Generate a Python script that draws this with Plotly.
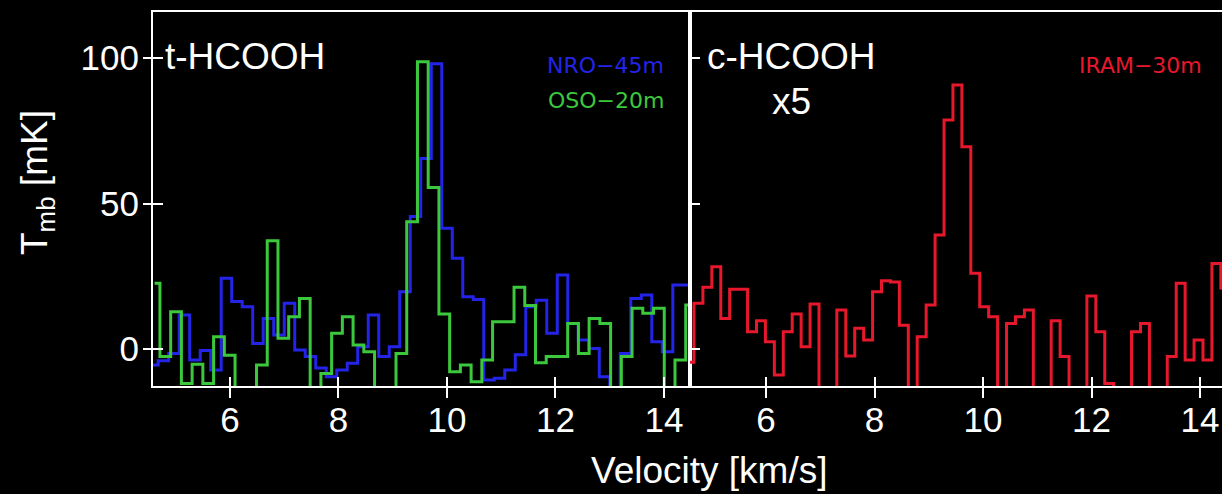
import numpy as np
import plotly.graph_objects as go

# ---- spectra (T_mb in mK), regular velocity channels: v_i = V0 + i*DV (km/s) ----
# t-HCOOH, NRO-45m
NRO_V0 = 4.580
NRO_DV = 0.1936
nro_tmb = [-5.5, -4.0, -1.5, 11.7, -3.8, -0.5, -7.2, 24.3, 16.3, 14.5,
           1.9, 10.5, 4.8, 15.7, -0.3, -2.6, -6.5, -9.5, -7.2, -4.9,
           0.8, 11.7, -2.6, 0.8, 19.7, 45.5, 65.5, 98.0, 41.5, 31.2,
           18.0, 17.0, -10.6, -10.0, -7.2, -2.0, 14.5, 16.8, 5.4, 25.4,
           8.8, 3.1, 0.2, -9.5, -15.0, -1.5, 17.4, 18.6, 2.5, -0.9,
           22.0, 22.0]

# t-HCOOH, OSO-20m
OSO_V0 = 4.610
OSO_DV = 0.1978
oso_tmb = [22.6, -2.6, 12.8, -11.8, -5.2, -11.8, 4.2, -2.1, -16.0, -15.0,
           -5.5, 37.2, 3.7, 11.1, 17.4, -15.0, -8.4, 5.4, 11.1, 1.4,
           -0.9, -16.0, -14.0, -1.5, 43.7, 98.7, 55.5, 12.0, -7.8, -5.5,
           -11.2, -3.8, 9.4, 9.4, 21.2, 15.0, -4.7, -2.6, -2.6, 8.8,
           -1.5, 10.5, 8.8, -15.0, -2.6, 14.0, 12.3, 14.0, -15.0, -3.8,
           15.1]

# c-HCOOH (x5), IRAM-30m
IRAM_V0 = 4.590
IRAM_DV = 0.1646
iram_tmb = [-4.5, 15.7, 21.2, 28.3, 10.5, 20.5, 20.5, 5.9, 9.7, 2.5,
            -8.9, 5.9, 12.0, 0.8, 15.5, -18.0, -16.0, 13.4, -2.4, 7.1,
            3.1, 19.7, 23.5, 23.0, 8.2, -15.0, 4.2, 15.1, 39.2, 78.7,
            90.7, 69.5, 26.0, 14.5, 11.1, -17.0, 8.8, 11.1, 13.4, -16.0,
            -20.0, 9.7, -2.6, -15.0, -19.0, 18.2, 5.9, -11.8, -16.0, -14.0,
            5.9, 8.8, -17.0, -14.0, -2.6, 22.6, -3.8, 3.1, -3.8, 29.4,
            21.0]

# axis ticks and labels
x_ticks = [6, 8, 10, 12, 14]
y_ticks = [0, 50, 100]
panel_labels = ["t-HCOOH", "c-HCOOH"]
scale_label = "x5"
telescopes = ["NRO\u221245m", "OSO\u221220m", "IRAM\u221230m"]
x_title = "Velocity [km/s]"
y_title = "T<sub>mb</sub> [mK]"

# colours
C_NRO = "#2424e8"
C_OSO = "#3cc83c"
C_IRAM = "#e8182c"
WHITE = "#ffffff"
FONT = "Liberation Sans, Arial, Helvetica, sans-serif"

W, H = 1222, 494
M_L, M_R, M_T, M_B = 153, 0, 12, 108
SPLIT = (690 - M_L) / (W - M_L - M_R)

X1_RANGE = [4.581, 14.480]
X2_RANGE = [4.599, 14.405]
Y_RANGE = [-12.7, 115.8]


def channels(v0, dv, n):
    return v0 + dv * np.arange(n)


fig = go.Figure()

fig.add_trace(go.Scatter(x=channels(NRO_V0, NRO_DV, len(nro_tmb)), y=nro_tmb,
                         mode="lines", line=dict(shape="hvh", color=C_NRO, width=3),
                         xaxis="x", yaxis="y", showlegend=False))
fig.add_trace(go.Scatter(x=channels(OSO_V0, OSO_DV, len(oso_tmb)), y=oso_tmb,
                         mode="lines", line=dict(shape="hvh", color=C_OSO, width=3),
                         xaxis="x", yaxis="y", showlegend=False))
fig.add_trace(go.Scatter(x=channels(IRAM_V0, IRAM_DV, len(iram_tmb)), y=iram_tmb,
                         mode="lines", line=dict(shape="hvh", color=C_IRAM, width=3),
                         xaxis="x2", yaxis="y2", showlegend=False))

# empty traces so the overlay axes (inner/outer tick halves) get drawn
for xa, ya in (("x3", "y"), ("x", "y3"), ("x4", "y2")):
    fig.add_trace(go.Scatter(x=[None], y=[None], xaxis=xa, yaxis=ya,
                             mode="lines", showlegend=False, hoverinfo="skip"))

tickfont = dict(family=FONT, size=35, color=WHITE)
common_x = dict(tickvals=x_ticks, ticktext=[str(t) for t in x_ticks], showgrid=False,
                zeroline=False, tickcolor=WHITE, tickwidth=2, tickfont=tickfont)
common_y = dict(range=Y_RANGE, tickvals=y_ticks, showgrid=False, zeroline=False,
                tickcolor=WHITE, tickwidth=2, tickfont=tickfont)

fig.update_layout(
    width=W, height=H,
    margin=dict(l=M_L, r=M_R, t=M_T, b=M_B, pad=0),
    paper_bgcolor="black", plot_bgcolor="black",
    showlegend=False,
    # outer tick halves + frame
    xaxis=dict(domain=[0, SPLIT], range=X1_RANGE, anchor="y", showline=True,
               linecolor=WHITE, linewidth=2, mirror=True, ticks="outside",
               ticklen=10, showticklabels=False, **common_x),
    # inner tick halves + labels
    xaxis3=dict(domain=[0, SPLIT], range=X1_RANGE, anchor="y", overlaying="x",
                showline=False, ticks="inside", ticklen=9, showticklabels=True,
                ticklabelstandoff=10, **common_x),
    xaxis2=dict(domain=[SPLIT, 1], range=X2_RANGE, anchor="y2", showline=True,
                linecolor=WHITE, linewidth=2, mirror=True, ticks="outside",
                ticklen=10, showticklabels=False, **common_x),
    xaxis4=dict(domain=[SPLIT, 1], range=X2_RANGE, anchor="y2", overlaying="x2",
                showline=False, ticks="inside", ticklen=9, showticklabels=True,
                ticklabelstandoff=10, **common_x),
    yaxis=dict(domain=[0, 1], anchor="x", showline=True, linecolor=WHITE,
               linewidth=2, mirror="ticks", ticks="outside", ticklen=8,
               showticklabels=False, **common_y),
    yaxis3=dict(domain=[0, 1], anchor="x", overlaying="y", showline=False,
                ticks="inside", ticklen=10, showticklabels=True,
                ticklabelstandoff=13, **common_y),
    yaxis2=dict(domain=[0, 1], anchor="x2", showline=True, linecolor=WHITE,
                linewidth=2, mirror=False, ticks="inside", ticklen=10,
                showticklabels=False, **common_y),
)


def px_x(px):
    return (px - M_L) / (W - M_L - M_R)


def px_y(py):
    return (H - M_B - py) / (H - M_T - M_B)


ann = []
big = dict(family=FONT, size=37, color=WHITE)
small = dict(family="DejaVu Sans, sans-serif", size=22)
ann.append(dict(text=panel_labels[0], x=px_x(163), y=px_y(56), xanchor="left",
                yanchor="middle", font=big))
ann.append(dict(text=panel_labels[1], x=px_x(705), y=px_y(56), xanchor="left",
                yanchor="middle", font=big))
ann.append(dict(text=scale_label, x=px_x(791), y=px_y(102), xanchor="center",
                yanchor="middle", font=big))
ann.append(dict(text=telescopes[0], x=px_x(666), y=px_y(65), xanchor="right",
                yanchor="middle", font=dict(small, color=C_NRO)))
ann.append(dict(text=telescopes[1], x=px_x(666), y=px_y(100), xanchor="right",
                yanchor="middle", font=dict(small, color=C_OSO)))
ann.append(dict(text=telescopes[2], x=px_x(1204), y=px_y(65), xanchor="right",
                yanchor="middle", font=dict(small, color=C_IRAM)))
ann.append(dict(text=x_title, x=px_x(709), y=px_y(470), xanchor="center",
                yanchor="middle", font=big))
ann.append(dict(text=y_title, x=px_x(37), y=px_y(183), xanchor="center",
                yanchor="middle", textangle=-90, font=big))
for a in ann:
    a.update(xref="paper", yref="paper", showarrow=False)
fig.update_layout(annotations=ann)

fig.write_html("out.html")
